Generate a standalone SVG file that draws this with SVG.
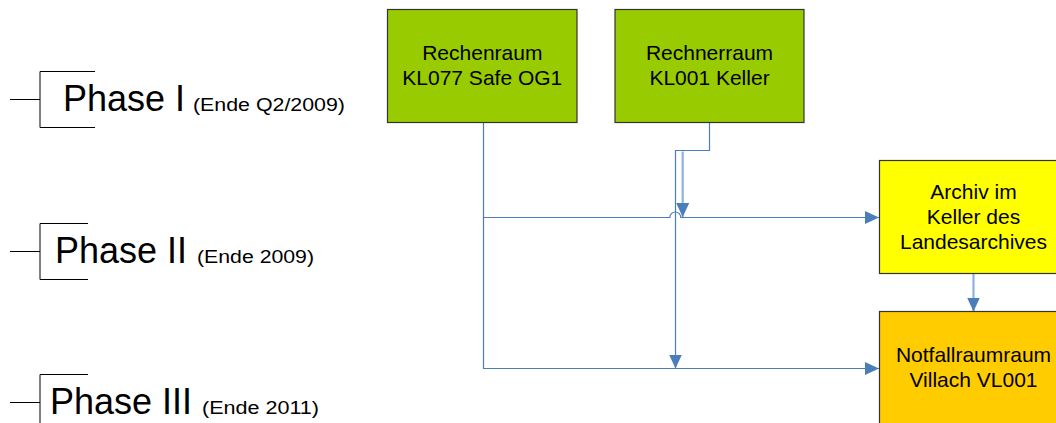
<svg xmlns="http://www.w3.org/2000/svg" width="1056" height="423" viewBox="0 0 1056 423">
  <style>
    .box { stroke: #333333; stroke-width: 1.2; }
    .green { fill: #99CC00; }
    .yellow { fill: #FFFF00; }
    .orange { fill: #FFCC00; }
    .lbl { font-family: "Liberation Sans", Arial, sans-serif; font-size: 21px; fill: #000000; text-anchor: middle; }
    .phase { font-family: "Liberation Sans", Arial, sans-serif; font-size: 36px; fill: #000000; }
    .small { font-family: "Liberation Sans", Arial, sans-serif; font-size: 18px; fill: #000000; }
    .bracket { fill: none; stroke: #000000; stroke-width: 1; }
    .conn { fill: none; stroke: #4A7EBB; stroke-width: 1.2; }
    .conn2 { fill: none; stroke: #8FB1DE; stroke-width: 2.2; }
  </style>
  <defs>
    <marker id="arr" markerUnits="userSpaceOnUse" markerWidth="14" markerHeight="13" refX="14" refY="6.5" orient="auto">
      <path d="M0,0 L14,6.5 L0,13 z" fill="#4A7EBB"/>
    </marker>
  </defs>

  <g id="phase1">
    <path class="bracket" d="M10,99.5 H40 M95,71.5 H40 V127.5 H95"/>
    <text class="phase" x="63" y="111">Phase I</text>
    <text class="small" x="193" y="111" textLength="152" lengthAdjust="spacingAndGlyphs">(Ende Q2/2009)</text>
  </g>
  <g id="phase2">
    <path class="bracket" d="M10,251.5 H40 M88,223.5 H40 V279.5 H88"/>
    <text class="phase" x="55" y="263">Phase II</text>
    <text class="small" x="197" y="263" textLength="117" lengthAdjust="spacingAndGlyphs">(Ende 2009)</text>
  </g>
  <g id="phase3">
    <path class="bracket" d="M10,402.5 H40 M88,374.5 H40 V430"/>
    <text class="phase" x="50" y="414">Phase III</text>
    <text class="small" x="202" y="414" textLength="117" lengthAdjust="spacingAndGlyphs">(Ende 2011)</text>
  </g>

  <g id="connectors">
    <path class="conn" d="M483.5,122.5 V217.5 H669.8 A5.5,5.5 0 0 1 680.8,217.5 H879" marker-end="url(#arr)"/>
    <path class="conn" d="M483.5,217.5 V368.5 H879" marker-end="url(#arr)"/>
    <path class="conn" d="M709.5,122.5 V150.5 H675.5 V368.5" marker-end="url(#arr)"/>
    <path class="conn2" d="M682.7,151.5 V217" marker-end="url(#arr)"/>
    <path class="conn2" d="M973.5,273.5 V311.5" marker-end="url(#arr)"/>
  </g>

  <g id="rechenraum-kl077">
    <rect class="box green" x="387.5" y="9.5" width="189.5" height="113"/>
    <text class="lbl" x="482.3" y="60">Rechenraum</text>
    <text class="lbl" x="482.3" y="85">KL077 Safe OG1</text>
  </g>
  <g id="rechnerraum-kl001">
    <rect class="box green" x="615" y="9.5" width="189" height="113"/>
    <text class="lbl" x="709.5" y="60">Rechnerraum</text>
    <text class="lbl" x="709.5" y="85">KL001 Keller</text>
  </g>
  <g id="archiv">
    <rect class="box yellow" x="879.5" y="160.5" width="189" height="113"/>
    <text class="lbl" x="973.5" y="198.5">Archiv im</text>
    <text class="lbl" x="973.5" y="223.5">Keller des</text>
    <text class="lbl" x="973.5" y="249">Landesarchives</text>
  </g>
  <g id="notfallraum">
    <rect class="box orange" x="879.5" y="311.5" width="189" height="113"/>
    <text class="lbl" x="973.5" y="361.5">Notfallraumraum</text>
    <text class="lbl" x="973.5" y="387">Villach VL001</text>
  </g>
</svg>
